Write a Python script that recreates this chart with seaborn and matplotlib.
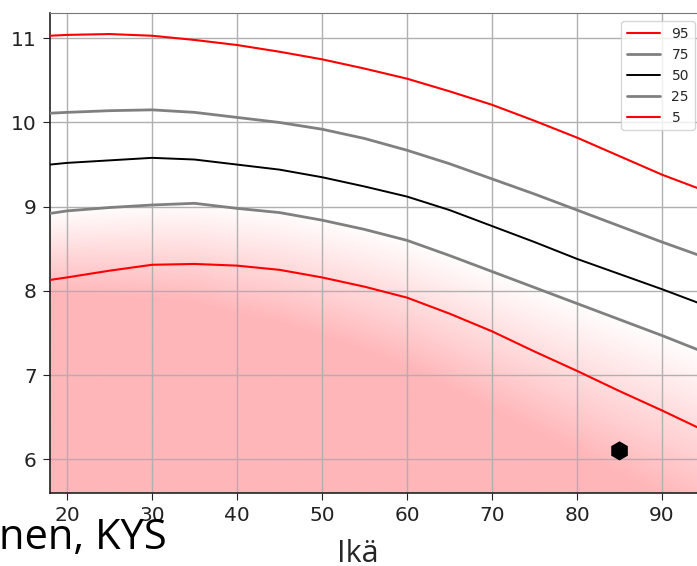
import numpy as np
import pandas as pd
import matplotlib
matplotlib.use("Agg")
import matplotlib.pyplot as plt
import seaborn as sns

# persentiilikäyrät (luettu kuvasta)
ika = [18, 20, 25, 30, 35, 40, 45, 50, 55, 60, 65, 70, 75, 80, 85, 90, 95]
p95 = [11.03, 11.04, 11.05, 11.03, 10.98, 10.92, 10.84, 10.75, 10.64, 10.52,
       10.37, 10.21, 10.02, 9.82, 9.60, 9.38, 9.19]
p75 = [10.11, 10.12, 10.14, 10.15, 10.12, 10.06, 10.00, 9.92, 9.81, 9.67,
       9.51, 9.33, 9.15, 8.96, 8.77, 8.58, 8.40]
p50 = [9.50, 9.52, 9.55, 9.58, 9.56, 9.50, 9.44, 9.35, 9.24, 9.12,
       8.96, 8.77, 8.58, 8.38, 8.20, 8.02, 7.83]
p25 = [8.92, 8.95, 8.99, 9.02, 9.04, 8.98, 8.93, 8.84, 8.73, 8.60,
       8.42, 8.23, 8.04, 7.85, 7.66, 7.47, 7.27]
p5 = [8.13, 8.16, 8.24, 8.31, 8.32, 8.30, 8.25, 8.16, 8.05, 7.92,
      7.73, 7.52, 7.28, 7.05, 6.81, 6.58, 6.34]

potilas_ika = [85]
potilas_arvo = [6.1]

df = pd.DataFrame({'ika': ika, '95': p95, '75': p75, '50': p50, '25': p25, '5': p5})

sns.set_style("ticks")
plt.rcParams['font.family'] = ['DejaVu Sans']

fig = plt.figure(figsize=(6.97, 5.66), dpi=100)
ax = fig.add_axes([50 / 697, 1 - 493 / 566, 653 / 697, 480 / 566])

xmin, xmax = 18.0, 94.82
ymin, ymax = 5.60, 11.30

# punainen liukuväri 25. persentiilin alapuolella
gx = np.linspace(xmin, xmax, 500)
gy = np.linspace(ymin, ymax, 500)
GX, GY = np.meshgrid(gx, gy)
raja = np.interp(GX, ika, p25)
leveys = 1.0 + 0.013 * (GX - 18)
t = np.clip((raja + 0.03 - GY) / leveys, 0, 1)
pink = np.array([255, 182, 185]) / 255
img = np.ones(GX.shape + (3,)) * (1 - t[..., None]) + pink * t[..., None]
ax.imshow(img, extent=[xmin, xmax, ymin, ymax], origin='lower', aspect='auto',
          zorder=0, interpolation='bilinear')

tyylit = [('95', 'red', 1.5), ('75', 'grey', 2.0), ('50', 'black', 1.4),
          ('25', 'grey', 2.0), ('5', 'red', 1.5)]
for nimi, vari, lw in tyylit:
    sns.lineplot(data=df, x='ika', y=nimi, color=vari, lw=lw, label=nimi, ax=ax, zorder=3)

sns.scatterplot(x=potilas_ika, y=potilas_arvo, marker='h', s=190, color='black',
                edgecolor='none', legend=False, ax=ax, zorder=5)

ax.set_xlim(xmin, xmax)
ax.set_ylim(ymin, ymax)
ax.set_xticks([20, 30, 40, 50, 60, 70, 80, 90])
ax.set_yticks([6, 7, 8, 9, 10, 11])
ax.grid(True, color='#b0b0b0', lw=1.0)
ax.set_xlabel('')
ax.set_ylabel('')
ax.tick_params(labelsize=14.5, length=5, pad=4.5, colors='#222222')
ax.spines['right'].set_visible(False)
ax.spines['top'].set_color('#777777')
for s in ['left', 'bottom']:
    ax.spines[s].set_color('#222222')
    ax.spines[s].set_linewidth(1.2)

ax.legend(loc='upper right', fontsize=10, handlelength=2.4, framealpha=0.8,
          borderaxespad=0.6)

fig.text(167 / 697, 1 - 549 / 566, 'nen, KYS', family='Open Sans', fontsize=30,
         ha='right', va='baseline', color='black')
fig.text(358 / 697, 1 - 562 / 566, 'Ikä', family='Open Sans', fontsize=22,
         ha='center', va='baseline', color='#262626')

fig.savefig('out.png', dpi=100)
